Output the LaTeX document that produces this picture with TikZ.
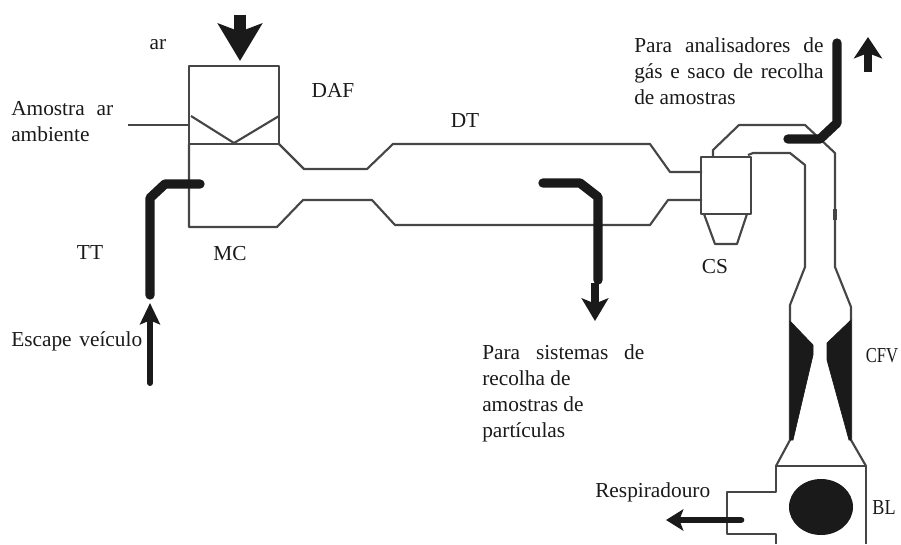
\documentclass[tikz,border=0pt]{standalone}
\usepackage{fontspec}
\setmainfont{Liberation Serif}
\usetikzlibrary{arrows.meta}
\definecolor{ductgray}{RGB}{70, 70, 70}
\definecolor{pipeblack}{RGB}{26, 26, 26}
\newcommand{\fitline}[2]{\makebox[#1][s]{#2}}

\begin{document}
\begin{tikzpicture}[x=0.75pt, y=-0.75pt,
                duct/.style={draw=ductgray, line width=1.6pt, line join=round},
                pipe/.style={draw=pipeblack, line width=7pt, line cap=round, line join=round},
                wedge/.style={fill=pipeblack, draw=pipeblack, line width=0.5pt},
                label/.style={inner sep=0pt, text=pipeblack, font=\fontsize{16}{19.5}\selectfont},
                textblock/.style={label, anchor=west, align=left}
            ]
                \useasboundingbox (0, 0) rectangle (901, 544);

                % filter box and mixing tunnel
                \draw[duct] (189, 66) rectangle (279, 144);
                \draw[duct] (189, 144) -- (189, 227) -- (277, 227) -- (303, 200) -- (372, 200) -- (395, 225) -- (650, 225) -- (668, 200) -- (702, 200);
                \draw[duct] (279, 144) -- (304, 169) -- (367, 169) -- (393, 144) -- (650, 144) -- (670, 172) -- (702, 172);
                \draw[duct] (191, 116) -- (234, 143) -- (279, 116);
                \draw[duct] (128, 125) -- (189, 125);

                % cyclone
                \draw[duct] (701, 157) rectangle (751, 214);
                \draw[duct] (704, 214) -- (715, 244) -- (737, 244) -- (747, 214);

                % duct down to the venturi and blower
                \draw[duct] (713, 157) -- (713, 150) -- (739, 125) -- (805, 125) -- (835, 153) -- (835, 267) -- (851, 307) -- (851, 440) -- (866, 466);
                \draw[duct] (748, 155) -- (753, 153) -- (790, 153) -- (805, 165) -- (805, 267) -- (790, 305) -- (790, 440) -- (776, 466);
                \draw[duct, line width=2.6pt] (835, 209) -- (835, 220);
                \draw[wedge] (790, 321) -- (813, 345) -- (813, 355) -- (793, 440) -- (790, 440) -- cycle;
                \draw[wedge] (851, 320) -- (827, 343) -- (827, 360) -- (849, 440) -- (851, 440) -- cycle;
                \draw[duct] (776, 544) -- (776, 534) -- (727, 534) -- (727, 492) -- (776, 492) -- (776, 466) -- (866, 466) -- (866, 544);
                \fill[pipeblack] (821, 507) ellipse (32 and 28);

                % probes
                \draw[pipe] (200, 184) -- (165, 184) -- (150, 198) -- (150, 295);
                \draw[pipe] (543, 183) -- (580, 183) -- (598, 197) -- (598, 280);
                \draw[pipe] (788, 139) -- (820, 139) -- (837, 123) -- (837, 43);

                % flow arrows
                \coordinate (airtop) at (240, 15);
                \coordinate (airtip) at (240, 61);
                \coordinate (exhtail) at (150, 383);
                \coordinate (exhtip) at (150, 303);
                \coordinate (parttail) at (595, 283);
                \coordinate (parttip) at (595, 321);
                \coordinate (gastail) at (868, 72);
                \coordinate (gastip) at (868, 37);
                \coordinate (venttail) at (741, 520);
                \coordinate (venttip) at (666, 520);
                \draw[-{Stealth[length=28pt, width=33pt, inset=6pt]}, draw=pipeblack, fill=pipeblack, line width=9pt] (airtop) -- (airtip);
                \draw[-{Stealth[length=16pt, width=15pt, inset=3pt]}, draw=pipeblack, fill=pipeblack, line width=4.5pt, line cap=round] (exhtail) -- (exhtip);
                \draw[-{Stealth[length=17pt, width=20pt, inset=4pt]}, draw=pipeblack, fill=pipeblack, line width=6pt] (parttail) -- (parttip);
                \draw[-{Stealth[length=16pt, width=21pt, inset=4pt]}, draw=pipeblack, fill=pipeblack, line width=6pt] (gastail) -- (gastip);
                \draw[-{Stealth[length=13pt, width=16pt, inset=3pt]}, draw=pipeblack, fill=pipeblack, line width=5pt, line cap=round] (venttail) -- (venttip);

                % labels
                \node[label] (ar) at (158, 45) {ar};
                \node[label] (daf) at (333, 90) {DAF};
                \node[textblock] (sample) at (11, 122) {\fitline{76.5pt}{Amostra ar}\\ambiente};
                \node[label] (dt) at (465, 121) {DT};
                \node[label] (tt) at (90, 253) {TT};
                \node[label] (mc) at (230, 254) {MC};
                \node[label] (cs) at (715, 267) {CS};
                \node[textblock] (exhaust) at (11, 341) {\fitline{98.2pt}{Escape veículo}};
                \node[textblock] (particles) at (482, 393) {\fitline{121.5pt}{Para sistemas de}\\recolha de\\amostras de\\partículas};
                \node[textblock] (analysers) at (634, 71) {\fitline{142pt}{Para analisadores de}\\\fitline{142pt}{gás e saco de recolha}\\de amostras};
                \node[label, xscale=0.78] (cfv) at (882, 356) {CFV};
                \node[textblock] (vent) at (595, 492) {\fitline{87.7pt}{Respiradouro}};
                \node[label, xscale=0.85] (bl) at (884, 508) {BL};
            \end{tikzpicture}
\end{document}
